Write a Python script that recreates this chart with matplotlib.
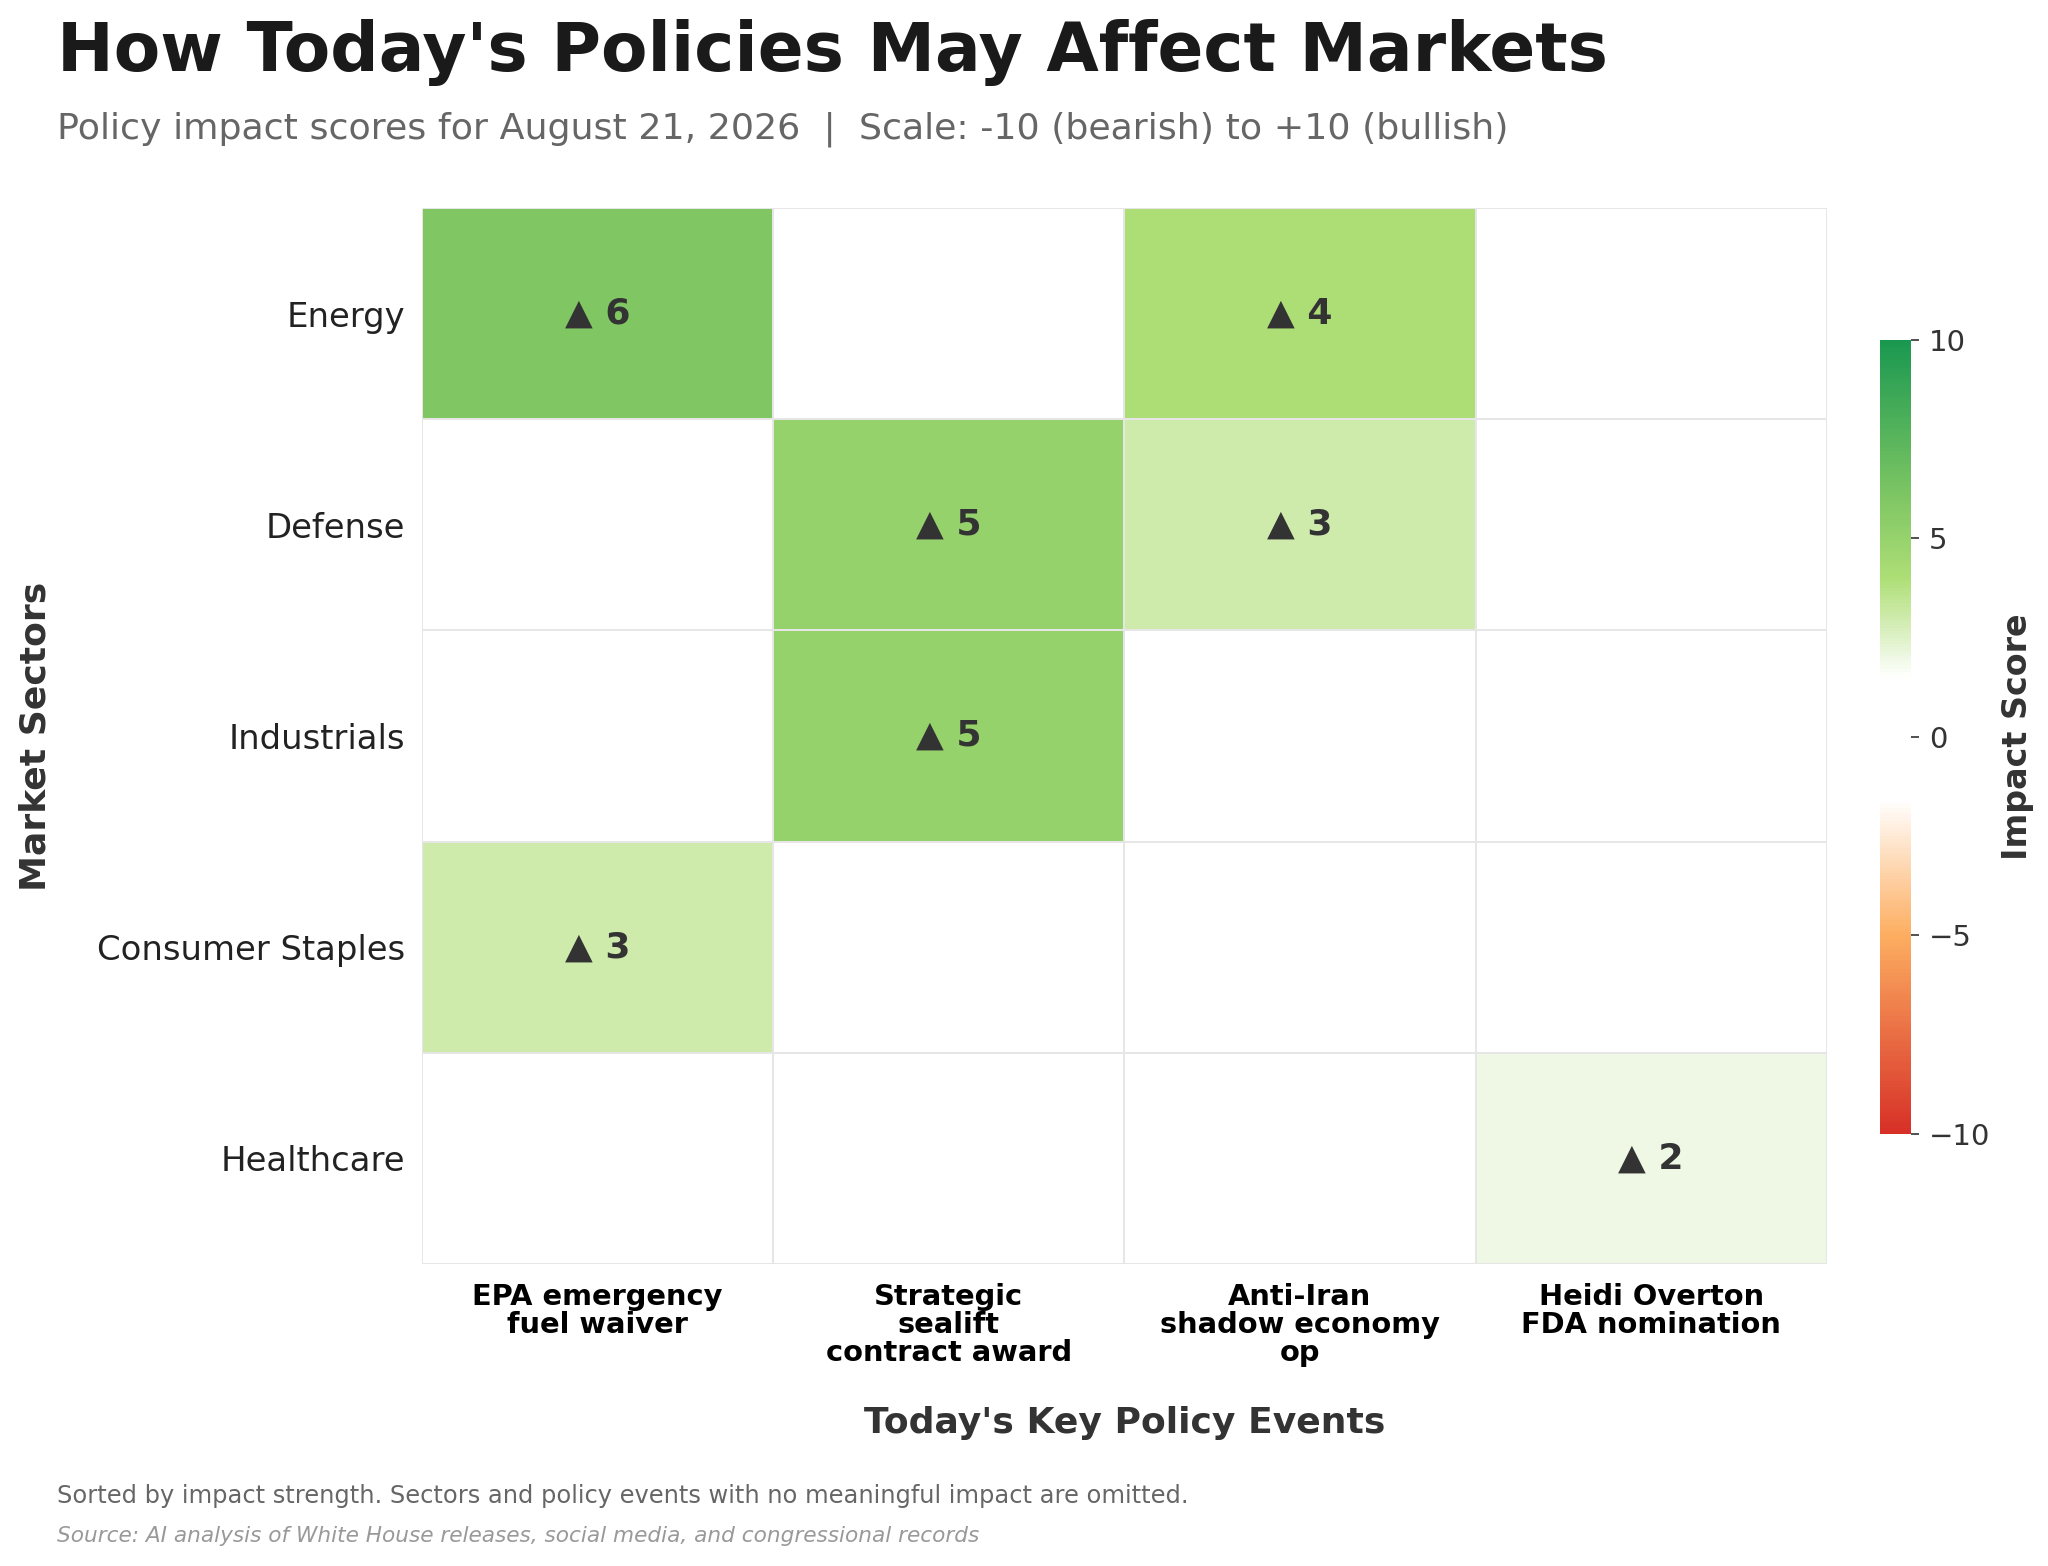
import numpy as np
import matplotlib
matplotlib.use("Agg")
import matplotlib.pyplot as plt
from matplotlib.colors import LinearSegmentedColormap

# data
sectors = ["Energy", "Defense", "Industrials", "Consumer Staples", "Healthcare"]
events = ["EPA emergency\nfuel waiver",
          "Strategic\nsealift\ncontract award",
          "Anti-Iran\nshadow economy\nop",
          "Heidi Overton\nFDA nomination"]
energy = [6, 0, 4, 0]
defense = [0, 5, 3, 0]
industrials = [0, 5, 0, 0]
consumer_staples = [3, 0, 0, 0]
healthcare = [0, 0, 0, 2]

scores = np.array([energy, defense, industrials, consumer_staples, healthcare], dtype=float)

cmap = LinearSegmentedColormap.from_list("impact", [
    (0.0, "#d73027"),
    (0.25, "#fdae61"),
    (0.42, "#ffffff"),
    (0.575, "#ffffff"),
    (0.7, "#aede76"),
    (0.8, "#80c764"),
    (1.0, "#1a9850"),
])

fig = plt.figure(figsize=(10.24, 7.83), dpi=200)
ax = fig.add_axes([0.206, 0.193, 0.686, 0.674])

mesh = ax.pcolormesh(scores, cmap=cmap, vmin=-10, vmax=10,
                     edgecolors="#e6e6e6", linewidth=0.6)
ax.set_xlim(0, len(events))
ax.set_ylim(len(sectors), 0)

for i in range(len(sectors)):
    for j in range(len(events)):
        v = scores[i, j]
        if v == 0:
            continue
        arrow = "\u25b2" if v > 0 else "\u25bc"
        ax.text(j + 0.5, i + 0.5, f"{arrow} {abs(int(v))}", ha="center", va="center",
                fontsize=13, fontweight="bold", color="#333333")

ax.set_xticks(np.arange(len(events)) + 0.5)
ax.set_xticklabels(events, fontsize=10.4, fontweight="bold", color="black", linespacing=1.0)
ax.set_yticks(np.arange(len(sectors)) + 0.5)
ax.set_yticklabels(sectors, fontsize=12.2, color="#222222")
ax.tick_params(axis="x", length=0, pad=7)
ax.tick_params(axis="y", length=0, pad=6)
for s in ax.spines.values():
    s.set_visible(False)

ax.set_xlabel("Today's Key Policy Events", fontsize=13, fontweight="bold",
              color="#333333", labelpad=14)
ax.set_ylabel("Market Sectors", fontsize=13, fontweight="bold",
              color="#333333", labelpad=16)

cax = fig.add_axes([0.918, 0.276, 0.015, 0.507])
cb = fig.colorbar(mesh, cax=cax, ticks=[-10, -5, 0, 5, 10])
cb.outline.set_visible(False)
cb.ax.tick_params(labelsize=10.5, length=3, width=0.6, color="#333333", labelcolor="#333333")
cb.set_label("Impact Score", fontsize=12, fontweight="bold", color="#333333", labelpad=4)

fig.text(0.028, 0.988, "How Today's Policies May Affect Markets", fontsize=24.4,
         fontweight="bold", color="#1a1a1a", ha="left", va="top")
fig.text(0.028, 0.929, "Policy impact scores for August 21, 2026  |  Scale: -10 (bearish) to +10 (bullish)",
         fontsize=13.1, color="#666666", ha="left", va="top")
fig.text(0.028, 0.045, "Sorted by impact strength. Sectors and policy events with no meaningful impact are omitted.",
         fontsize=8.7, color="#666666", ha="left", va="center")
fig.text(0.028, 0.019, "Source: AI analysis of White House releases, social media, and congressional records",
         fontsize=7.8, color="#999999", style="italic", ha="left", va="center")

fig.savefig("out.png", dpi=200, facecolor="white")
